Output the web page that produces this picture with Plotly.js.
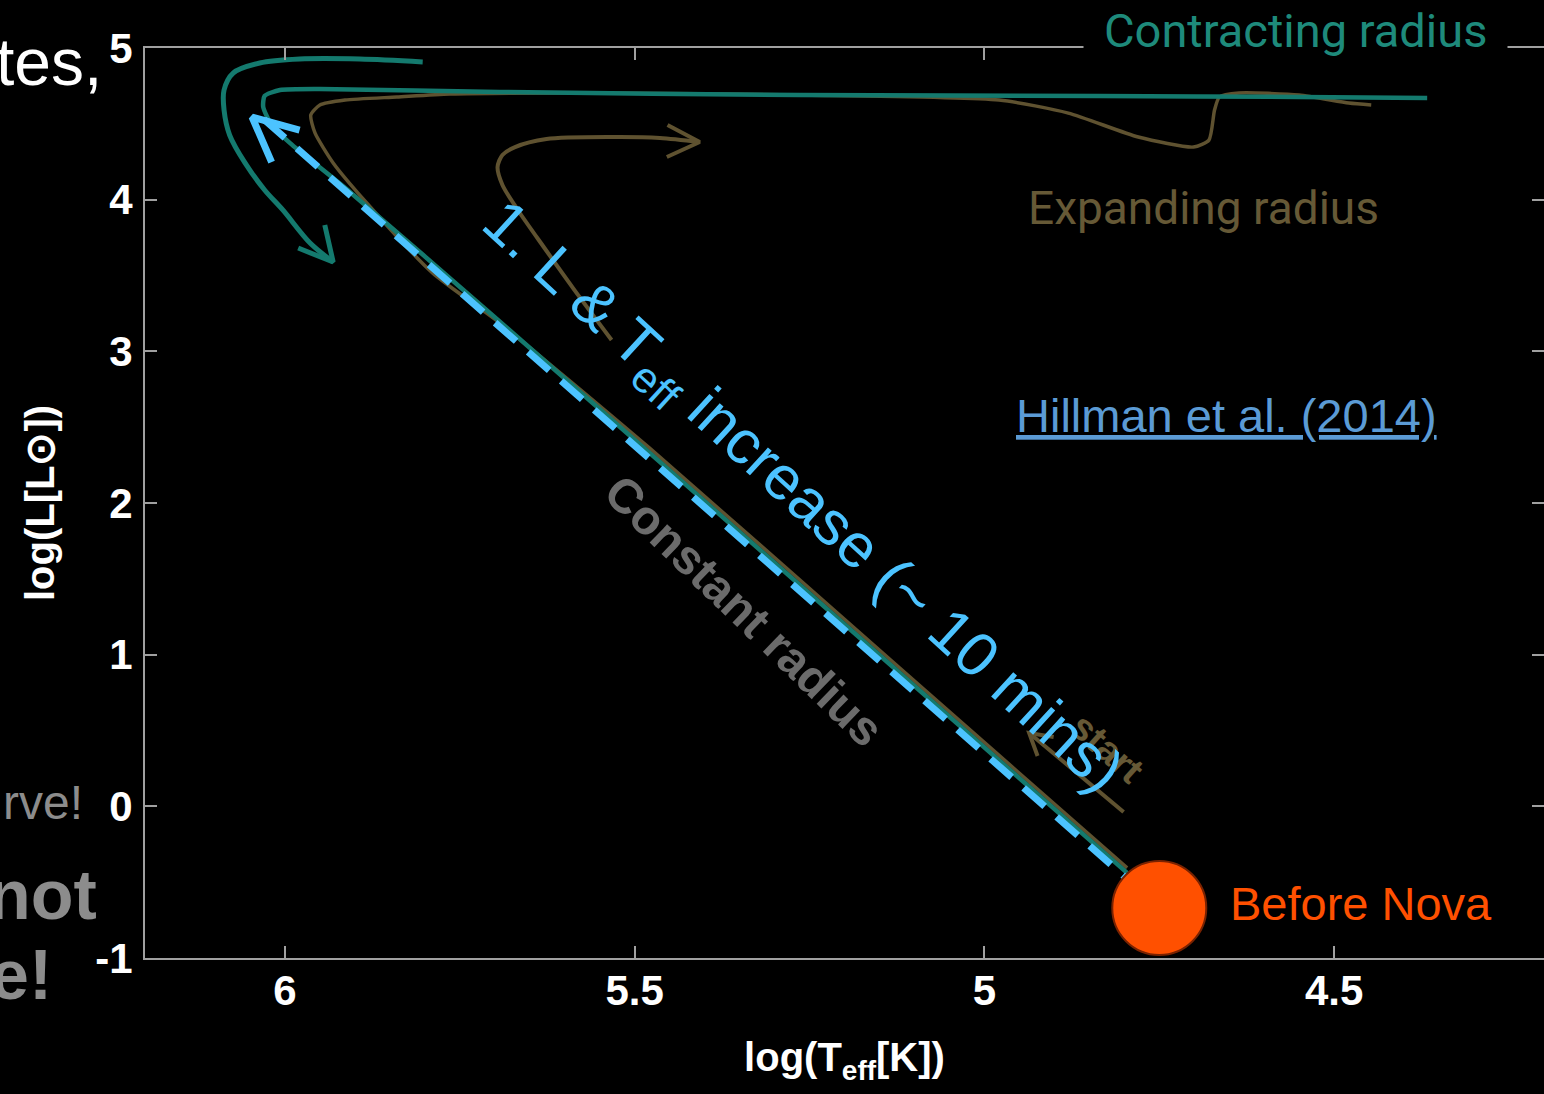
<!DOCTYPE html>
<html>
<head>
<meta charset="utf-8">
<script src="https://cdn.plot.ly/plotly-3.0.1.min.js"></script>
<style>
  html, body { margin: 0; padding: 0; background: #000; }
  #chart { width: 1544px; height: 1094px; }
</style>
</head>
<body>
<div id="chart"></div>
<script>
// ---------- data (log Teff, log L) ----------
// Contracting-radius arrow (outer teal curve)
const tealArrowX = [5.803, 5.893, 5.979, 6.036, 6.074, 6.087, 6.087, 6.079, 6.057, 6.029, 6.003, 5.964, 5.931];
const tealArrowY = [4.908, 4.927, 4.927, 4.901, 4.835, 4.723, 4.591, 4.426, 4.242, 4.064, 3.932, 3.714, 3.589];
const tealHeadX = [5.981, 5.931, 5.943];
const tealHeadY = [3.681, 3.589, 3.833];

// Contracting-radius evolutionary track (teal)
const tealTrackX = [4.796, 5.121, 5.407, 5.707, 5.907, 5.993, 6.019, 6.031, 6.029, 6.007, 5.950, 5.693, 5.264, 4.836, 4.550, 4.367];
const tealTrackY = [-0.439, 0.879, 2.040, 3.253, 4.051, 4.374, 4.492, 4.611, 4.684, 4.723, 4.730, 4.710, 4.690, 4.684, 4.677, 4.670];

// Expanding-radius evolutionary track (brown)
const brownTrackX = [4.796, 5.121, 5.479, 5.693, 5.789, 5.883, 5.931, 5.957, 5.963, 5.950, 5.914, 5.840, 5.764, 5.550, 5.264, 4.979, 4.880, 4.780, 4.701, 4.679, 4.671, 4.664, 4.636, 4.550, 4.479, 4.447];
const brownTrackY = [-0.406, 0.912, 2.363, 3.187, 3.517, 3.978, 4.242, 4.440, 4.558, 4.624, 4.657, 4.677, 4.697, 4.703, 4.690, 4.657, 4.571, 4.413, 4.347, 4.393, 4.591, 4.677, 4.703, 4.690, 4.637, 4.624];

// Expanding-radius arrow (brown)
const brownArrowX = [5.533, 5.586, 5.630, 5.667, 5.689, 5.696, 5.689, 5.671, 5.626, 5.531, 5.464, 5.407];
const brownArrowY = [3.075, 3.404, 3.688, 3.932, 4.097, 4.215, 4.295, 4.347, 4.400, 4.413, 4.407, 4.380];
const brownHeadX = [5.453, 5.407, 5.454];
const brownHeadY = [4.492, 4.380, 4.281];

// "start" arrow (brown)
const startShaftX = [4.801, 4.936];
const startShaftY = [-0.037, 0.484];
const startHeadX = [4.924, 4.936, 4.901];
const startHeadY = [0.332, 0.484, 0.457];

// Phase 1 : L & Teff increase (blue dashed double arrow)
const blueLineX = [6.030, 4.799];
const blueLineY = [4.530, -0.466];
const blueHeadX = [5.979, 6.047, 6.019];
const blueHeadY = [4.459, 4.545, 4.248];

// Before nova point
const novaX = [4.75];
const novaY = [-0.67];

// Axes
const xTickVals = [6, 5.5, 5, 4.5];
const xTickText = ['6', '5.5', '5', '4.5'];
const yTickVals = [-1, 0, 1, 2, 3, 4, 5];
const yTickText = ['-1', '0', '1', '2', '3', '4', '5'];

// ---------- styling ----------
const W = 1544, H = 1094;
const M = {l: 145, r: 0, t: 48, b: 136};
const PW = W - M.l - M.r, PH = H - M.t - M.b;
const px = v => (v - M.l) / PW;          // pixel -> paper x
const py = v => (H - M.b - v) / PH;      // pixel -> paper y

const TEAL = '#147a6e';
const TEAL_TXT = '#1e8a7b';
const BROWN = '#5f5230';
const BROWN_TXT = '#665936';
const BLUE = '#4cc3ff';
const AXIS = '#a0a0a0';
const SANS = 'Liberation Sans, Arial, sans-serif';
const NARROW = 'Liberation Sans Narrow, Roboto, Arial Narrow, sans-serif';

const traces = [
  {x: brownTrackX, y: brownTrackY, mode: 'lines', line: {color: BROWN, width: 3.5, shape: 'spline', smoothing: 0.6}, hoverinfo: 'skip'},
  {x: brownArrowX, y: brownArrowY, mode: 'lines', line: {color: BROWN, width: 4, shape: 'spline', smoothing: 0.8}, hoverinfo: 'skip'},
  {x: brownHeadX, y: brownHeadY, mode: 'lines', line: {color: BROWN, width: 4}, hoverinfo: 'skip'},
  {x: startShaftX, y: startShaftY, mode: 'lines', line: {color: BROWN, width: 4}, hoverinfo: 'skip'},
  {x: startHeadX, y: startHeadY, mode: 'lines', line: {color: BROWN, width: 4}, hoverinfo: 'skip'},
  {x: tealTrackX, y: tealTrackY, mode: 'lines', line: {color: TEAL, width: 4.5, shape: 'spline', smoothing: 0.6}, hoverinfo: 'skip'},
  {x: tealArrowX, y: tealArrowY, mode: 'lines', line: {color: TEAL, width: 5, shape: 'spline', smoothing: 0.9}, hoverinfo: 'skip'},
  {x: tealHeadX, y: tealHeadY, mode: 'lines', line: {color: TEAL, width: 5}, hoverinfo: 'skip'},
  {x: blueLineX, y: blueLineY, mode: 'lines', line: {color: BLUE, width: 7, dash: '28px,16px'}, hoverinfo: 'skip'},
  {x: blueHeadX, y: blueHeadY, mode: 'lines', line: {color: BLUE, width: 7}, hoverinfo: 'skip'},
  {x: novaX, y: novaY, mode: 'markers', marker: {size: 94, color: '#ff5000', line: {color: '#7a2200', width: 2}}, cliponaxis: false, hoverinfo: 'skip'}
];

const annotations = [
  // cut-off slide text on the left (the reference shows these cropped at the page edge)
  {xref: 'paper', yref: 'paper', x: px(104), y: py(62), xanchor: 'right', yanchor: 'middle', showarrow: false,
   text: 'tes,', font: {family: SANS, size: 66, color: '#ffffff'}},
  {xref: 'paper', yref: 'paper', x: px(85), y: py(802), xanchor: 'right', yanchor: 'middle', showarrow: false,
   text: 'rve!', font: {family: SANS, size: 48, color: '#8c8c8c'}},
  {xref: 'paper', yref: 'paper', x: px(99), y: py(895), xanchor: 'right', yanchor: 'middle', showarrow: false,
   text: 'not', font: {family: SANS, size: 70, color: '#8c8c8c', weight: 'bold'}},
  {xref: 'paper', yref: 'paper', x: px(54), y: py(975), xanchor: 'right', yanchor: 'middle', showarrow: false,
   text: 'e!', font: {family: SANS, size: 70, color: '#8c8c8c', weight: 'bold'}},
  // chart labels
  {xref: 'paper', yref: 'paper', x: px(1295), y: py(30), xanchor: 'center', yanchor: 'middle', showarrow: false,
   text: 'Contracting radius', font: {family: NARROW, size: 47, color: TEAL_TXT}, bgcolor: '#000000', borderpad: 20},
  {xref: 'paper', yref: 'paper', x: px(1203), y: py(208), xanchor: 'center', yanchor: 'middle', showarrow: false,
   text: 'Expanding radius', font: {family: NARROW, size: 46, color: BROWN_TXT}},
  {xref: 'paper', yref: 'paper', x: px(744), y: py(610), xanchor: 'center', yanchor: 'middle', showarrow: false,
   textangle: 44, text: 'Constant radius', font: {family: SANS, size: 48, color: '#6b6b6b', weight: 'bold'}},
  {xref: 'paper', yref: 'paper', x: px(1107), y: py(748), xanchor: 'center', yanchor: 'middle', showarrow: false,
   textangle: 42, text: 'start', font: {family: SANS, size: 38, color: BROWN_TXT, weight: 'bold'}},
  {xref: 'paper', yref: 'paper', x: px(801), y: py(499), xanchor: 'center', yanchor: 'middle', showarrow: false,
   textangle: 42.5, text: '1. L &amp; T<sub>eff</sub> increase (~ 10 mins)', font: {family: SANS, size: 62, color: BLUE}},
  {xref: 'paper', yref: 'paper', x: px(1226), y: py(415), xanchor: 'center', yanchor: 'middle', showarrow: false,
   text: '<u>Hillman et al. (2014)</u>', font: {family: SANS, size: 47, color: '#5b9bd5'}},
  {xref: 'paper', yref: 'paper', x: px(1228), y: py(903), xanchor: 'left', yanchor: 'middle', showarrow: false,
   text: 'Before Nova', font: {family: SANS, size: 47, color: '#ff5000'}}
];

const axisCommon = {
  showgrid: false, zeroline: false, showline: true, linecolor: AXIS, linewidth: 2,
  mirror: 'ticks', ticks: 'inside', ticklen: 12, tickwidth: 2, tickcolor: AXIS,
  tickfont: {family: SANS, size: 42, color: '#ffffff', weight: 'bold'}
};

const layout = {
  width: W, height: H,
  margin: M,
  paper_bgcolor: '#000000', plot_bgcolor: '#000000',
  showlegend: false,
  xaxis: Object.assign({}, axisCommon, {
    range: [6.2, 4.2], tickvals: xTickVals, ticktext: xTickText, ticklabelstandoff: -5,
    title: {text: 'log(T<sub>eff</sub>[K])', font: {family: SANS, size: 40, color: '#ffffff', weight: 'bold'}, standoff: 30}
  }),
  yaxis: Object.assign({}, axisCommon, {
    range: [-1, 5], tickvals: yTickVals, ticktext: yTickText, ticklabelstandoff: 2,
    title: {text: 'log(L[L\u2299])', font: {family: SANS, size: 40, color: '#ffffff', weight: 'bold'}, standoff: 28}
  }),
  annotations: annotations
};

Plotly.newPlot('chart', traces, layout, {staticPlot: true, displayModeBar: false});
</script>
</body>
</html>
